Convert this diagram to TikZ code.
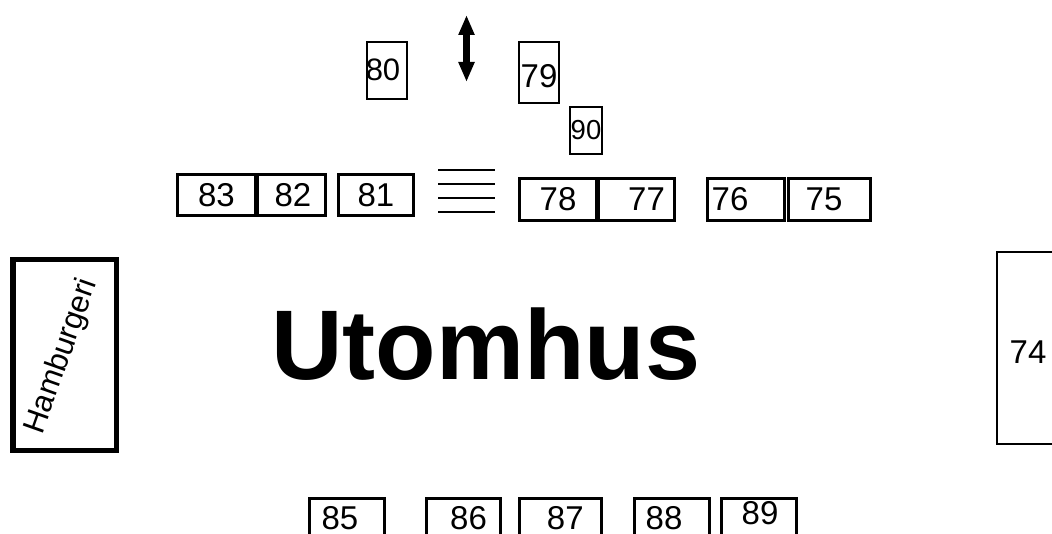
\documentclass[tikz,border=0pt]{standalone}
\usepackage{fontspec}
\setmainfont{Liberation Sans}
\usepackage{xcolor}
\usepackage{tikz}
\usetikzlibrary{arrows.meta}

\begin{document}
\begin{tikzpicture}[x=1pt, y=-1pt,
  plats/.style={draw, line width=3pt, inner sep=0pt, font=\fontsize{33}{36}\selectfont},
  smal/.style={draw, line width=2pt, inner sep=0pt, font=\fontsize{33}{36}\selectfont},
  nr/.style={inner sep=0pt, font=\fontsize{33}{36}\selectfont}]
\clip (0,0) rectangle (1052,534);

\node[plats, minimum width=78pt, minimum height=41pt] (p83) at (216.5,195) {83};
\node[plats, minimum width=68pt, minimum height=41pt, label={[nr, xshift=1.5pt]center:82}] (p82) at (291.5,195) {};
\node[plats, minimum width=75pt, minimum height=41pt] (p81) at (376,195) {81};
\node[plats, minimum width=77pt, minimum height=42pt] (p78) at (558,199.5) {78};
\node[plats, minimum width=76pt, minimum height=42pt, label={[nr, xshift=10pt]center:77}] (p77) at (636.5,199.5) {};
\node[plats, minimum width=77pt, minimum height=42pt, label={[nr, xshift=-16pt]center:76}] (p76) at (746,199.5) {};
\node[plats, minimum width=82pt, minimum height=42pt, label={[nr, xshift=-5.5pt]center:75}] (p75) at (829.5,199.5) {};

\node[smal, minimum width=40pt, minimum height=57pt, label={[nr, font=\fontsize{31}{34}\selectfont, xshift=-4pt]center:80}] (p80) at (387,70.3) {};
\node[smal, minimum width=40pt, minimum height=61pt, label={[nr, yshift=-3.4pt]center:79}] (p79) at (539,72.3) {};
\node[smal, minimum width=32pt, minimum height=47pt, font=\fontsize{27.5}{30}\selectfont] (p90) at (586,130.5) {90};
\node[smal, minimum width=62pt, minimum height=192pt, label={[nr, yshift=-4pt]center:74}] (p74) at (1028,348) {};

\node[draw, line width=5.5pt, minimum width=103.5pt, minimum height=190.5pt,
  label={[inner sep=0pt, rotate=70.5, xshift=-2pt, yshift=2pt, font=\fontsize{31}{33}\selectfont]center:Hamburgeri}] (grill) at (64.5,355) {};

\node[inner sep=0pt, anchor=base west, font=\fontsize{99}{100}\selectfont\bfseries] (titel) at (271,380) {Utomhus};

\node[plats, minimum width=75pt, minimum height=60pt, label={[nr, xshift=-7pt, yshift=10.5pt]center:85}] (p85) at (347,528.5) {};
\node[plats, minimum width=74pt, minimum height=60pt, label={[nr, xshift=5pt, yshift=10.5pt]center:86}] (p86) at (463.5,528.5) {};
\node[plats, minimum width=82pt, minimum height=60pt, label={[nr, xshift=5pt, yshift=10.5pt]center:87}] (p87) at (560.3,528.5) {};
\node[plats, minimum width=75pt, minimum height=60pt, label={[nr, xshift=-8pt, yshift=10.5pt]center:88}] (p88) at (672,528.5) {};
\node[plats, minimum width=75pt, minimum height=60pt, label={[nr, xshift=1pt, yshift=15pt]center:89}] (p89) at (759,528.5) {};

\foreach \y in {170,184,198,212.5}
  \draw[line width=2pt] (438,\y) -- (495,\y);

\coordinate (upp) at (466.5,15);
\coordinate (ner) at (466.5,82);
\draw[line width=7pt, {Triangle[length=20pt,width=15pt]}-{Triangle[length=20pt,width=15pt]}] (upp) -- (ner);

\end{tikzpicture}
\end{document}
